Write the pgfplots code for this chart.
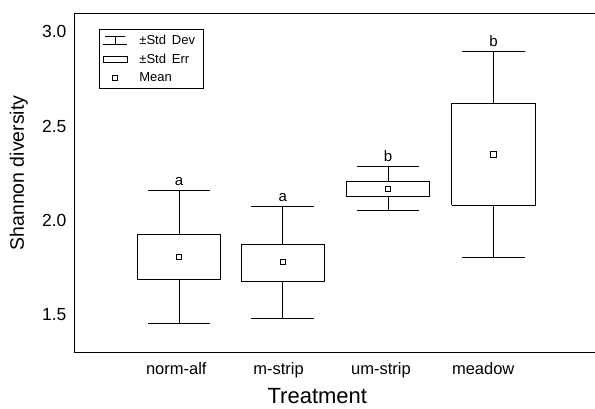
\documentclass[border=0pt]{standalone}
\usepackage{fontspec}
\setmainfont{Liberation Sans}
\usepackage{pgfplots}
\pgfplotsset{compat=1.18}
\begin{document}
\begin{tikzpicture}
\useasboundingbox (-74pt,-56pt) rectangle (521pt,352pt);
\begin{axis}[
  at={(0pt,0pt)}, anchor=south west,
  scale only axis, width=521pt, height=339pt,
  xmin=0, xmax=5.093, ymin=1.3, ymax=3.1,
  axis line style={draw=none},
  unbounded coords=jump,
  xtick={1,2,3,4},
  xticklabels={norm-alf,m-strip,um-strip,meadow},
  ytick={1.5,2.0,2.5,3.0},
  yticklabel style={/pgf/number format/fixed,/pgf/number format/fixed zerofill,/pgf/number format/precision=1,
    font=\fontsize{17.5}{19}\selectfont, xshift=-4pt},
  xticklabel style={font=\fontsize{16.5}{18}\selectfont, yshift=-7pt},
  /pgf/number format/assume math mode=true,
  major tick length=0pt,
  xlabel={Treatment},
  ylabel={Shannon diversity},
  xlabel style={font=\fontsize{22}{24}\selectfont, at={(axis description cs:0.467,-0.153)}, anchor=base, inner sep=1pt},
  ylabel style={font=\fontsize{19.5}{21}\selectfont, at={(axis description cs:-0.106,0.528)}, anchor=center},
  legend style={at={(axis description cs:0.048,0.953)}, anchor=north west, draw=black, line width=0.6pt,
    font=\fontsize{13}{15}\selectfont, legend cell align=left, row sep=4pt, column sep=7pt, inner sep=3.5pt,
    nodes={inner xsep=5pt}},
]
\draw[black, line width=0.8pt] (rel axis cs:1,1) -- (rel axis cs:0,1) -- (rel axis cs:0,0) -- (rel axis cs:1,0);

\addlegendimage{legend image code/.code={
  \draw[black, line width=0.6pt] (2pt,4pt) -- (22pt,4pt);
  \draw[black, line width=0.6pt] (0pt,-4pt) -- (24pt,-4pt);
  \draw[black, line width=0.6pt] (12pt,4pt) -- (12pt,-4pt);}}
\addlegendentry{±Std\hspace{0.45em}Dev}
\addlegendimage{legend image code/.code={
  \draw[black, line width=0.6pt] (0pt,-3.3pt) rectangle (24pt,3.3pt);}}
\addlegendentry{±Std\hspace{0.45em}Err}
\addlegendimage{legend image code/.code={
  \draw[black, line width=0.6pt] (9.5pt,-2.5pt) rectangle (14.5pt,2.5pt);}}
\addlegendentry{Mean}

% boxes (+/- Std Err)
\addplot[black, line width=0.8pt, forget plot] coordinates {
  (0.6185,1.688) (1.4335,1.688) (1.4335,1.924) (0.6185,1.924) (0.6185,1.688) (nan,nan)
  (1.6325,1.676) (2.4475,1.676) (2.4475,1.872) (1.6325,1.872) (1.6325,1.676) (nan,nan)
  (2.6625,2.126) (3.4775,2.126) (3.4775,2.204) (2.6625,2.204) (2.6625,2.126) (nan,nan)
  (3.6925,2.078) (4.5075,2.078) (4.5075,2.620) (3.6925,2.620) (3.6925,2.078)
};
% whiskers (+/- Std Dev)
\addplot[black, line width=0.8pt, forget plot] coordinates {
  (1.026,1.924) (1.026,2.160) (nan,nan) (1.026,1.688) (1.026,1.450) (nan,nan)
  (0.721,2.160) (1.331,2.160) (nan,nan) (0.721,1.450) (1.331,1.450) (nan,nan)
  (2.04,1.872) (2.04,2.074) (nan,nan) (2.04,1.676) (2.04,1.480) (nan,nan)
  (1.735,2.074) (2.345,2.074) (nan,nan) (1.735,1.480) (2.345,1.480) (nan,nan)
  (3.07,2.204) (3.07,2.286) (nan,nan) (3.07,2.126) (3.07,2.050) (nan,nan)
  (2.765,2.286) (3.375,2.286) (nan,nan) (2.765,2.050) (3.375,2.050) (nan,nan)
  (4.10,2.620) (4.10,2.895) (nan,nan) (4.10,2.078) (4.10,1.800) (nan,nan)
  (3.795,2.895) (4.405,2.895) (nan,nan) (3.795,1.800) (4.405,1.800)
};
% means
\addplot[only marks, mark=square, mark size=2.7pt, black, line width=0.6pt, forget plot]
  coordinates {(1.026,1.805) (2.04,1.778) (3.07,2.165) (4.10,2.350)};
% group letters
\addplot[only marks, mark=none, forget plot, point meta=explicit symbolic,
  nodes near coords, nodes near coords style={anchor=base, yshift=5pt, inner sep=0pt, font=\fontsize{15}{16}\selectfont}]
  coordinates {(1.026,2.160)[a] (2.04,2.074)[a] (3.07,2.286)[b] (4.10,2.895)[b]};
\end{axis}
\end{tikzpicture}
\end{document}
